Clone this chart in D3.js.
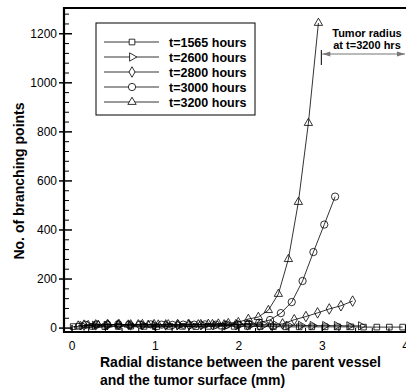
<!DOCTYPE html>
<html>
<head>
<meta charset="utf-8">
<script src="https://cdn.jsdelivr.net/npm/d3@7"></script>
<style>
  html, body { margin: 0; padding: 0; background: #fff; }
  svg { display: block; font-family: "Liberation Sans", Arial, Helvetica, sans-serif; }
</style>
</head>
<body>
<svg id="chart" width="406" height="389"></svg>
<script>
// ---------- data ----------
const seriesNames = ["t=1565 hours", "t=2600 hours", "t=2800 hours", "t=3000 hours", "t=3200 hours"];

const x1565 = [0.02,0.09,0.25,0.40,0.56,0.71,0.87,1.02,1.18,1.33,1.49,1.64,1.80,1.95,2.11,2.26,2.42,2.57,2.73,2.88,3.04,3.19,3.35,3.50,3.66,3.81,3.97];
const y1565 = [4,5,5,4,5,6,5,4,5,5,4,5,6,5,5,4,4,3,3,3,3,3,3,2,2,2,2];

const x2600 = [0.13,0.28,0.42,0.57,0.71,0.86,1.00,1.15,1.29,1.44,1.58,1.73,1.87,2.02,2.16,2.31,2.45,2.60,2.75,2.89,3.04,3.18,3.33,3.47];
const y2600 = [8,9,9,10,9,10,9,10,9,10,10,9,10,11,12,11,10,9,9,8,8,8,7,7];

const x2800 = [0.15,0.29,0.43,0.57,0.71,0.85,0.99,1.13,1.27,1.41,1.55,1.69,1.83,1.97,2.11,2.25,2.39,2.53,2.67,2.81,2.95,3.09,3.23,3.37];
const y2800 = [10,11,12,12,11,12,12,11,12,11,12,12,11,12,11,10,11,15,32,45,60,76,89,108];

const x3000 = [0.17,0.30,0.43,0.56,0.69,0.82,0.95,1.08,1.21,1.34,1.47,1.60,1.73,1.86,1.99,2.12,2.25,2.38,2.51,2.64,2.77,2.90,3.03,3.16];
const y3000 = [11,12,12,13,12,12,13,12,11,12,12,13,12,12,13,15,20,31,59,104,190,308,420,534];

const x3200 = [0.08,0.20,0.32,0.44,0.56,0.68,0.80,0.92,1.04,1.16,1.28,1.40,1.52,1.64,1.76,1.88,2.00,2.12,2.24,2.36,2.48,2.60,2.72,2.84,2.96];
const y3200 = [8,10,11,12,13,12,13,11,12,13,12,14,13,15,16,18,22,35,43,71,137,279,512,834,1242];

const xTicks = [0, 1, 2, 3, 4];
const xMinorTicks = [0.2,0.4,0.6,0.8,1.2,1.4,1.6,1.8,2.2,2.4,2.6,2.8,3.2,3.4,3.6,3.8];
const yTicks = [0, 200, 400, 600, 800, 1000, 1200];
const yMinorTicks = [40,80,120,160,240,280,320,360,440,480,520,560,640,680,720,760,840,880,920,960,1040,1080,1120,1160,1240,1280];

const xTitle = ["Radial distance between the parent vessel", "and the tumor surface (mm)"];
const yTitle = "No. of branching points";
const noteLines = ["Tumor radius", "at t=3200 hrs"];
const noteX = 2.995; // tumor radius position (mm)

// ---------- chart ----------
const svg = d3.select("#chart");
const L = 64, R = 406, T = 8, B = 332;
const x = d3.scaleLinear().domain([-0.09, 4.01]).range([L, R]);
const y = d3.scaleLinear().domain([-18, 1303]).range([B, T]);
const fmt = d3.format("d");

const symTri = d3.symbol().type(d3.symbolTriangle).size(30);
const shapes = [
  { path: d3.symbol().type(d3.symbolSquare).size(32)(), rot: 0 },
  { path: symTri(), rot: 90 },
  { path: d3.symbol().type(d3.symbolDiamond).size(32)(), rot: 0 },
  { path: d3.symbol().type(d3.symbolCircle).size(42)(), rot: 0 },
  { path: symTri(), rot: 0 }
];

const seriesX = [x1565, x2600, x2800, x3000, x3200];
const seriesY = [y1565, y2600, y2800, y3000, y3200];

const plot = svg.append("g");
const line = d3.line().x(d => x(d[0])).y(d => y(d[1]));
seriesX.forEach((xs, i) => {
  const pts = xs.map((v, j) => [v, seriesY[i][j]]);
  plot.append("path").datum(pts)
    .attr("d", line).attr("fill", "none").attr("stroke", "#000").attr("stroke-width", 0.8);
  plot.selectAll(null).data(pts).enter().append("path")
    .attr("d", shapes[i].path)
    .attr("transform", d => `translate(${x(d[0])},${y(d[1])}) rotate(${shapes[i].rot})`)
    .attr("fill", "none").attr("stroke", "#000").attr("stroke-width", 0.8);
});

// axes
const yAxis = svg.append("g").attr("transform", `translate(${L},0)`)
  .call(d3.axisLeft(y).tickValues(yTicks).tickFormat(fmt).tickSizeInner(-8).tickSizeOuter(0).tickPadding(7));
yAxis.select(".domain").remove();
yAxis.selectAll(".tick line").attr("x1", -5).attr("x2", 8).attr("stroke-width", 1.5);
yAxis.selectAll(".tick text").attr("font-size", 12).attr("font-family", "Liberation Sans, Arial, sans-serif").attr("x", -7);

const yMinor = svg.append("g").attr("transform", `translate(${L},0)`)
  .call(d3.axisLeft(y).tickValues(yMinorTicks).tickSizeInner(-5).tickSizeOuter(0).tickFormat(""));
yMinor.select(".domain").remove();

const xAxis = svg.append("g").attr("transform", `translate(0,${B})`)
  .call(d3.axisBottom(x).tickValues(xTicks).tickFormat(fmt).tickSizeInner(-7).tickSizeOuter(0).tickPadding(5));
xAxis.select(".domain").remove();
xAxis.selectAll(".tick line").attr("stroke-width", 1.5);
xAxis.selectAll(".tick text").attr("font-size", 12).attr("font-family", "Liberation Sans, Arial, sans-serif").attr("y", 9);

const xMinor = svg.append("g").attr("transform", `translate(0,${B})`)
  .call(d3.axisBottom(x).tickValues(xMinorTicks).tickSizeInner(-4).tickSizeOuter(0).tickFormat(""));
xMinor.select(".domain").remove();

// frame lines
svg.append("line").attr("x1", L).attr("x2", L).attr("y1", T - 1).attr("y2", B + 1).attr("stroke", "#000").attr("stroke-width", 2.2);
svg.append("line").attr("x1", L).attr("x2", R).attr("y1", B).attr("y2", B).attr("stroke", "#000").attr("stroke-width", 2.2);
svg.append("line").attr("x1", L).attr("x2", R).attr("y1", T).attr("y2", T).attr("stroke", "#000").attr("stroke-width", 2);

// axis titles
svg.append("text").attr("transform", `translate(24,181) rotate(-90)`)
  .attr("text-anchor", "middle").attr("font-size", 14).attr("font-weight", "bold").text(yTitle);
svg.append("text").attr("x", 100).attr("y", 367).attr("font-size", 14).attr("font-weight", "bold").text(xTitle[0]);
svg.append("text").attr("x", 100).attr("y", 385).attr("font-size", 14).attr("font-weight", "bold").text(xTitle[1]);

// legend
const lg = svg.append("g");
lg.append("rect").attr("x", 96).attr("y", 23).attr("width", 159).attr("height", 92)
  .attr("fill", "#fff").attr("stroke", "#000").attr("stroke-width", 1);
seriesNames.forEach((name, i) => {
  const yy = 42 + i * 15;
  lg.append("line").attr("x1", 104).attr("x2", 159).attr("y1", yy).attr("y2", yy)
    .attr("stroke", "#000").attr("stroke-width", 0.8);
  lg.append("path").attr("d", shapes[i].path)
    .attr("transform", `translate(132,${yy}) rotate(${shapes[i].rot})`)
    .attr("fill", "#fff").attr("stroke", "#000").attr("stroke-width", 0.8);
  lg.append("text").attr("x", 169).attr("y", yy + 4.5).attr("font-size", 12.5)
    .attr("font-weight", "bold").text(name);
});

// annotation
const ax = x(noteX);
svg.append("text").attr("x", 367).attr("y", 37).attr("text-anchor", "middle")
  .attr("font-size", 11).attr("font-weight", "bold").text(noteLines[0]);
svg.append("text").attr("x", 367).attr("y", 49).attr("text-anchor", "middle")
  .attr("font-size", 11).attr("font-weight", "bold").text(noteLines[1]);
svg.append("line").attr("x1", ax).attr("x2", ax).attr("y1", 50).attr("y2", 65)
  .attr("stroke", "#000").attr("stroke-width", 1);
svg.append("line").attr("x1", ax + 1).attr("x2", R - 1).attr("y1", 54).attr("y2", 54)
  .attr("stroke", "#777").attr("stroke-width", 1.2);
svg.append("path").attr("d", `M${ax + 1},54 L${ax + 9},51.5 L${ax + 9},56.5 Z`).attr("fill", "#777");
svg.append("path").attr("d", `M${R - 1},54 L${R - 9},51.5 L${R - 9},56.5 Z`).attr("fill", "#777");
</script>
</body>
</html>
